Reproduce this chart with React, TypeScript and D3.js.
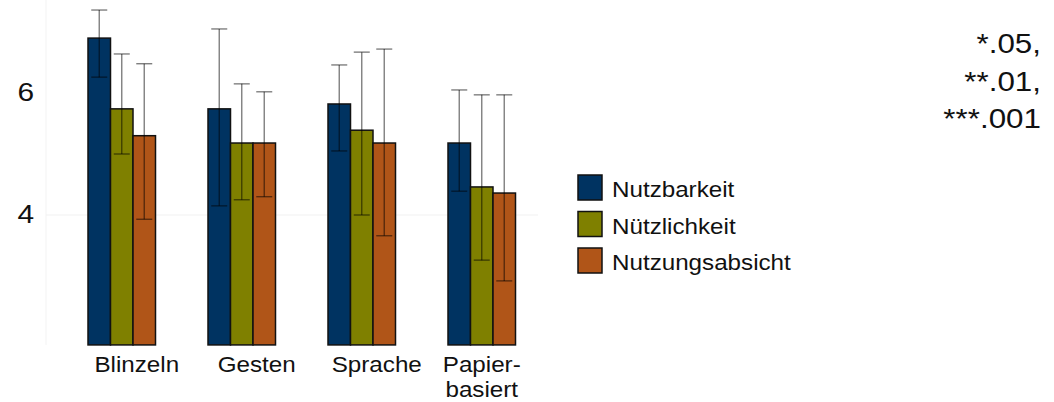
import React, { useEffect, useRef } from 'react';
import * as d3 from 'd3';

// categories and series
const categories = ['Blinzeln', 'Gesten', 'Sprache', 'Papier-basiert'];
const categoryLines = [['Blinzeln'], ['Gesten'], ['Sprache'], ['Papier-', 'basiert']];
const series = ['Nutzbarkeit', 'Nützlichkeit', 'Nutzungsabsicht'];
const colors = ['#003361', '#7f8000', '#b05518'];

// means per series (order of categories)
const nutzbarkeit = [6.9, 5.74, 5.82, 5.18];
const nuetzlichkeit = [5.74, 5.18, 5.39, 4.46];
const nutzungsabsicht = [5.3, 5.18, 5.18, 4.36];

// error bar ends
const nutzbarkeitLow = [6.26, 4.15, 5.05, 4.39];
const nutzbarkeitHigh = [7.36, 7.05, 6.46, 6.05];
const nuetzlichkeitLow = [5.0, 4.25, 4.0, 3.26];
const nuetzlichkeitHigh = [6.64, 6.15, 6.67, 5.97];
const nutzungsabsichtLow = [3.93, 4.3, 3.66, 2.92];
const nutzungsabsichtHigh = [6.48, 6.02, 6.72, 5.97];

const yTicks = [4, 6];
const yFloor = 1.87;
const gridValues = [4];
const sigLines = ['*.05,', '**.01,', '***.001'];

const FONT = "'Liberation Sans', Arial, sans-serif";

export default function App() {
  const ref = useRef<SVGSVGElement>(null);

  useEffect(() => {
    const width = 1054;
    const height = 402;
    const svg = d3.select(ref.current);
    svg.selectAll('*').remove();

    const means = [nutzbarkeit, nuetzlichkeit, nutzungsabsicht];
    const lows = [nutzbarkeitLow, nuetzlichkeitLow, nutzungsabsichtLow];
    const highs = [nutzbarkeitHigh, nuetzlichkeitHigh, nutzungsabsichtHigh];

    const x0 = d3.scaleBand()
      .domain(categories)
      .range([88, 515.5])
      .paddingInner(0.4375)
      .paddingOuter(0);

    const x1 = d3.scaleBand()
      .domain(series)
      .range([0, x0.bandwidth()])
      .padding(0);

    const y = d3.scaleLinear().domain([4, 6]).range([215, 93]);

    svg.attr('width', width).attr('height', height);

    // faint frame line and grid
    svg.append('line')
      .attr('x1', 46).attr('x2', 46)
      .attr('y1', 0).attr('y2', y(yFloor))
      .attr('stroke', '#f3f3f3').attr('stroke-width', 1);

    svg.selectAll('line.grid')
      .data(gridValues)
      .join('line')
      .attr('class', 'grid')
      .attr('x1', 46).attr('x2', 538)
      .attr('y1', d => y(d)).attr('y2', d => y(d))
      .attr('stroke', '#f1f1f1').attr('stroke-width', 1);

    // y tick labels
    svg.selectAll('text.ytick')
      .data(yTicks)
      .join('text')
      .attr('class', 'ytick')
      .attr('transform', d => `translate(34,${y(d) + 8}) scale(1.15,1)`)
      .attr('text-anchor', 'end')
      .attr('font-family', FONT)
      .attr('font-size', 26)
      .attr('fill', '#111')
      .text(d => d);

    // bars
    const groups = svg.selectAll('g.cat')
      .data(categories)
      .join('g')
      .attr('class', 'cat')
      .attr('transform', d => `translate(${x0(d)},0)`);

    groups.each(function (cat, ci) {
      const g = d3.select(this);
      const rows = series.map((s, si) => ({
        s, si, v: means[si][ci], lo: lows[si][ci], hi: highs[si][ci],
      }));

      g.selectAll('rect')
        .data(rows)
        .join('rect')
        .attr('x', d => x1(d.s)!)
        .attr('y', d => y(d.v))
        .attr('width', x1.bandwidth())
        .attr('height', d => y(yFloor) - y(d.v))
        .attr('fill', d => colors[d.si])
        .attr('stroke', '#111')
        .attr('stroke-width', 1.5);

      const cx = (d: any) => x1(d.s)! + x1.bandwidth() / 2;
      const cap = 8;

      g.selectAll('line.err')
        .data(rows)
        .join('line')
        .attr('class', 'err')
        .attr('x1', cx).attr('x2', cx)
        .attr('y1', d => y(d.hi)).attr('y2', d => y(d.lo));

      g.selectAll('line.capHi')
        .data(rows)
        .join('line')
        .attr('class', 'capHi')
        .attr('x1', d => cx(d) - cap).attr('x2', d => cx(d) + cap)
        .attr('y1', d => y(d.hi)).attr('y2', d => y(d.hi));

      g.selectAll('line.capLo')
        .data(rows)
        .join('line')
        .attr('class', 'capLo')
        .attr('x1', d => cx(d) - cap).attr('x2', d => cx(d) + cap)
        .attr('y1', d => y(d.lo)).attr('y2', d => y(d.lo));

      g.selectAll('line')
        .attr('stroke', 'rgba(0,0,0,0.5)')
        .attr('stroke-width', 1.4);
    });

    // x labels
    categories.forEach((cat, ci) => {
      const lines = categoryLines[ci];
      const cx = x0(cat)! + x0.bandwidth() / 2 + (lines.length > 1 ? 0 : 15);
      lines.forEach((t, li) => {
        svg.append('text')
          .attr('transform', `translate(${cx},${372 + li * 25}) scale(1.1,1)`)
          .attr('text-anchor', 'middle')
          .attr('font-family', FONT)
          .attr('font-size', 22)
          .attr('fill', '#111')
          .text(t);
      });
    });

    // legend
    const legend = svg.append('g').attr('transform', 'translate(578,175)');
    series.forEach((s, i) => {
      legend.append('rect')
        .attr('x', 0).attr('y', i * 36.5)
        .attr('width', 24).attr('height', 25)
        .attr('fill', colors[i])
        .attr('stroke', '#111')
        .attr('stroke-width', 1.5);
      legend.append('text')
        .attr('transform', `translate(34,${i * 36.5 + 22}) scale(1.1,1)`)
        .attr('font-family', FONT)
        .attr('font-size', 22)
        .attr('fill', '#111')
        .text(s);
    });

    // significance note
    sigLines.forEach((t, i) => {
      svg.append('text')
        .attr('transform', `translate(1041,${53 + i * 37.5}) scale(1.12,1)`)
        .attr('text-anchor', 'end')
        .attr('font-family', FONT)
        .attr('font-size', 28)
        .attr('fill', '#111')
        .text(t);
    });
  }, []);

  return (
    <svg ref={ref} width={1054} height={402}
      style={{ position: 'absolute', left: 0, top: 0, background: '#fff' }} />
  );
}
